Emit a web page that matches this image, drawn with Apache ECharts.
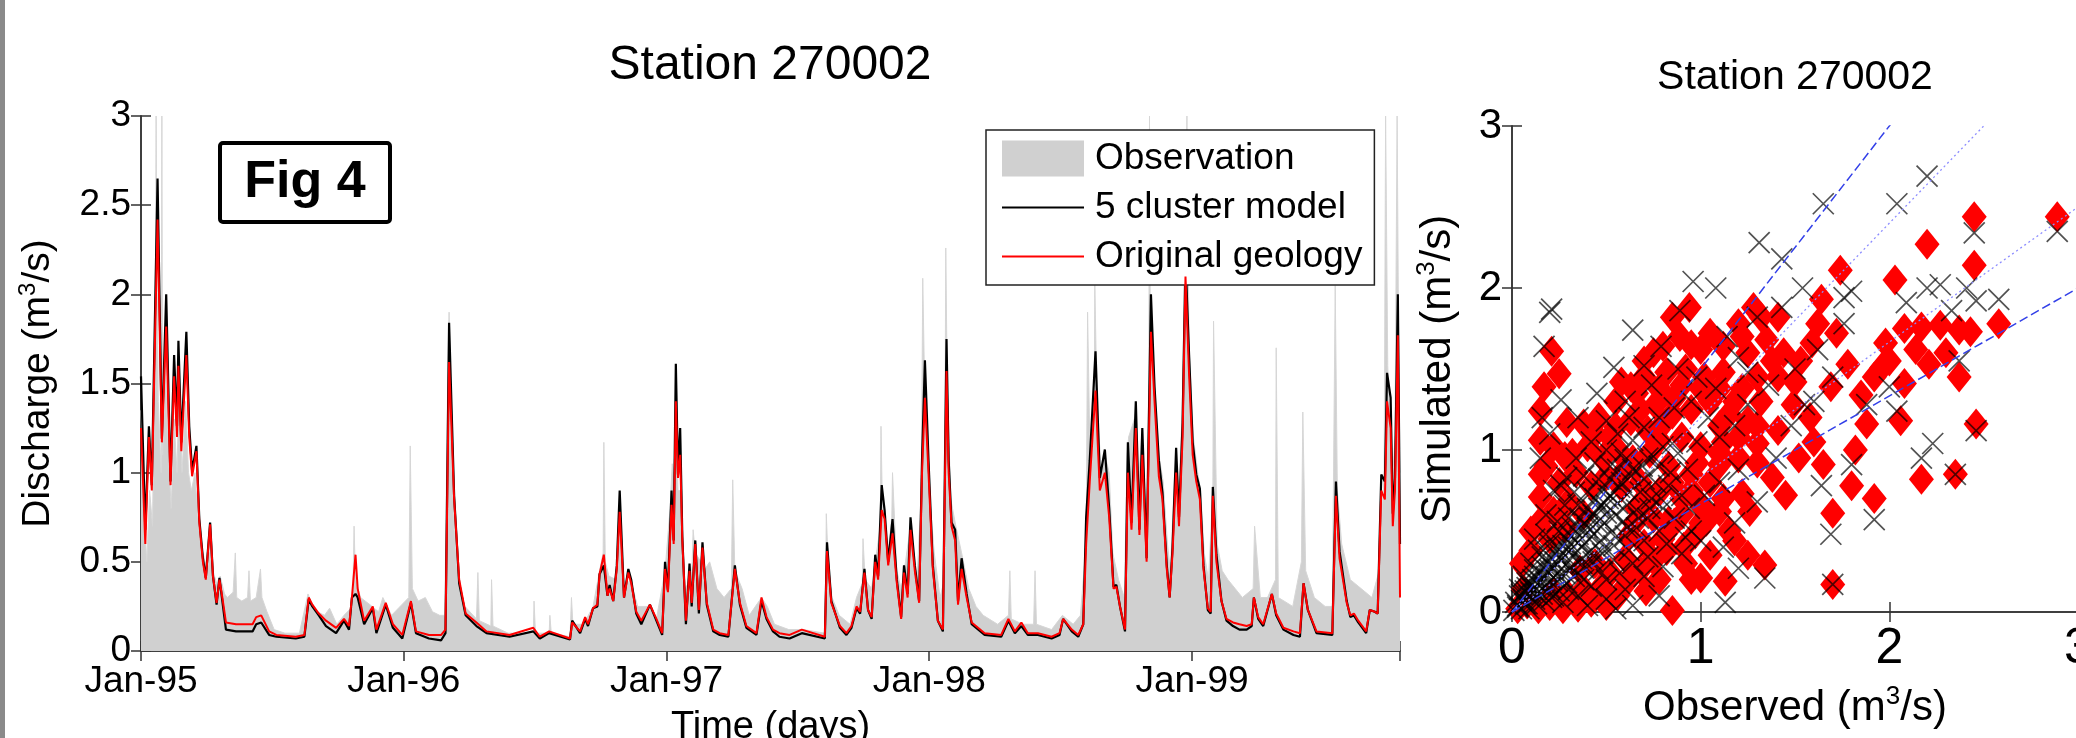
<!DOCTYPE html>
<html>
<head>
<meta charset="utf-8">
<script src="https://cdn.jsdelivr.net/npm/echarts@6/dist/echarts.min.js"></script>
<style>
  html, body { margin: 0; padding: 0; background: #fff; }
  #chart { width: 2076px; height: 738px; }
</style>
</head>
<body>
<div id="chart"></div>
<script>
// x positions are days since 1 Jan 1995
const yearLabels = ['Jan-95', 'Jan-96', 'Jan-97', 'Jan-98', 'Jan-99'];
const yearTickDays = [0, 365, 730, 1095, 1460];
const lastDay = 1749;

// observed discharge (grey area)
const obsFlow = [[0,1.35],[4,0.8],[8,0.5],[12,0.9],[16,0.7],[20,2.0],[21,3.0],[22,2.2],[24,1.4],[28,1.0],[29,3.0],[30,1.1],[34,1.6],[37,1.2],[42,0.8],[46,1.3],[50,1.0],[53,1.5],[57,1.0],[62,1.4],[66,1.0],[70,0.9],[75,1.0],[80,0.7],[86,0.55],[92,0.45],[97,0.6],[100,0.45],[105,0.38],[110,0.42],[116,0.32],[120,0.3],[128,0.33],[131,0.55],[133,0.3],[140,0.28],[148,0.3],[150,0.45],[152,0.28],[160,0.3],[166,0.46],[168,0.3],[175,0.22],[185,0.12],[200,0.1],[220,0.1],[232,0.32],[236,0.28],[245,0.22],[255,0.2],[262,0.24],[272,0.15],[282,0.2],[294,0.25],[296,0.7],[298,0.4],[305,0.3],[318,0.26],[330,0.22],[336,0.3],[348,0.2],[372,0.3],[374,1.15],[377,0.35],[385,0.28],[395,0.3],[405,0.22],[415,0.2],[422,0.2],[426,1.5],[428,1.9],[431,1.2],[435,0.7],[440,0.4],[450,0.25],
  [466,0.18],[468,0.44],[470,0.17],[486,0.14],[487,0.4],[489,0.14],[510,0.1],[545,0.1],[546,0.28],[548,0.1],[567,0.1],[568,0.2],[570,0.1],[596,0.08],[598,0.3],[600,0.15],[615,0.15],[628,0.25],[637,0.45],[642,0.55],[643,1.17],[645,0.5],[650,0.42],[660,0.4],[665,0.8],[670,0.35],[680,0.4],[690,0.25],[707,0.25],[716,0.18],[728,0.45],[735,0.8],[738,1.05],[741,0.95],[743,1.35],[746,0.9],[750,0.9],[755,0.35],[765,0.4],[767,0.68],[770,0.55],[778,0.5],[782,0.45],[790,0.5],[800,0.35],[810,0.3],[820,0.35],[822,0.96],[825,0.45],[835,0.35],[845,0.2],[862,0.3],[870,0.25],[880,0.15],[900,0.12],
  [920,0.12],[950,0.1],[951,0.25],[952,0.77],[955,0.45],[960,0.3],[970,0.2],[985,0.15],[994,0.3],[1002,0.38],[1003,0.63],[1006,0.4],[1015,0.35],[1020,0.5],[1027,0.7],[1028,1.26],[1030,0.8],[1038,0.55],[1043,0.75],[1044,1.0],[1050,0.45],[1056,0.35],[1062,0.5],[1069,0.7],[1078,0.4],[1084,0.9],[1086,2.09],[1089,1.4],[1095,0.9],[1102,0.55],[1110,0.3],[1116,0.4],[1118,2.26],[1120,1.5],[1125,0.85],[1132,0.7],[1140,0.55],[1150,0.35],[1160,0.25],[1170,0.2],[1190,0.15],[1205,0.2],[1207,0.45],[1209,0.18],[1225,0.15],[1240,0.15],[1242,0.45],[1244,0.15],[1265,0.12],[1280,0.2],[1295,0.15],[1305,0.2],[1313,0.6],[1315,1.9],[1319,0.95],[1324,1.2],[1325,2.07],[1328,1.4],[1334,1.0],[1339,1.1],
  [1345,1.0],[1350,0.55],[1358,0.4],[1366,0.3],[1370,1.1],[1372,1.2],[1380,1.3],[1385,0.9],[1390,1.2],[1396,0.6],[1400,1.5],[1401,3.0],[1402,1.9],[1408,1.5],[1414,1.1],[1420,0.95],[1426,0.6],[1430,0.45],[1436,1.0],[1441,0.8],[1446,1.3],[1450,2.0],[1453,3.0],[1456,1.7],[1462,1.2],[1468,1.0],[1472,0.9],[1477,0.55],[1483,0.4],[1489,0.9],[1490,1.85],[1495,0.6],[1502,0.45],[1510,0.4],[1520,0.35],[1530,0.3],[1545,0.35],[1547,0.7],[1555,0.3],[1565,0.3],[1576,0.4],[1577,1.7],[1580,0.3],[1600,0.25],[1612,0.5],[1614,1.34],[1618,0.45],[1630,0.3],[1645,0.25],[1655,0.25],[1659,2.05],[1662,0.9],[1668,0.6],[1680,0.4],[1695,0.35],[1710,0.3],[1720,0.45],[1727,1.0],[1729,3.0],[1732,1.6],[1738,0.9],[1742,1.2],[1745,3.0],[1747,1.8],[1749,1.0]];

// 5 cluster model (black)
const clusterFlow = [[0,1.54],[6,0.68],[11,1.26],[15,0.93],[23,2.65],[29,1.19],[35,2.0],[41,0.95],[46,1.66],[50,1.26],[52,1.74],[56,1.17],[63,1.79],[67,1.26],[71,1.01],[77,1.15],[81,0.74],[86,0.52],[90,0.41],[96,0.72],[100,0.42],[105,0.26],[109,0.41],[113,0.28],[118,0.12],[132,0.11],[155,0.11],[160,0.15],[167,0.16],[178,0.09],[188,0.08],[215,0.07],[227,0.08],[233,0.29],[238,0.25],[247,0.2],[257,0.14],[271,0.1],[282,0.17],[289,0.12],[293,0.3],[298,0.32],[301,0.3],[310,0.15],[322,0.24],[327,0.1],[340,0.26],[350,0.13],[363,0.07],[375,0.27],[382,0.1],[400,0.07],[417,0.06],[423,0.1],[428,1.84],[435,0.87],[442,0.38],[451,0.2],
  [466,0.14],[480,0.1],[512,0.08],[545,0.11],[554,0.07],[567,0.1],[596,0.065],[599,0.17],[610,0.1],[617,0.18],[621,0.14],[628,0.24],[634,0.25],[637,0.43],[643,0.48],[648,0.31],[651,0.37],[656,0.28],[661,0.48],[665,0.9],[671,0.3],[677,0.46],[681,0.4],[688,0.21],[695,0.15],[707,0.26],[716,0.17],[724,0.09],[728,0.5],[732,0.34],[737,0.9],[740,0.62],[743,1.61],[746,0.99],[749,1.25],[752,0.64],[757,0.15],[762,0.49],[765,0.25],[770,0.62],[775,0.21],[780,0.61],[786,0.26],[795,0.11],[804,0.09],[816,0.08],[825,0.48],[832,0.26],[841,0.13],[855,0.09],[862,0.28],[869,0.18],[878,0.11],[887,0.08],[901,0.07],
  [918,0.1],[950,0.07],[953,0.61],[959,0.28],[971,0.13],[980,0.09],[987,0.13],[994,0.24],[999,0.21],[1005,0.46],[1010,0.23],[1015,0.18],[1020,0.54],[1024,0.42],[1029,0.93],[1033,0.79],[1038,0.5],[1044,0.74],[1050,0.4],[1056,0.19],[1060,0.48],[1065,0.32],[1069,0.75],[1075,0.48],[1081,0.28],[1085,1.07],[1089,1.63],[1094,1.07],[1100,0.48],[1107,0.17],[1114,0.11],[1119,1.75],[1122,1.07],[1126,0.72],[1131,0.68],[1135,0.28],[1140,0.52],[1147,0.32],[1154,0.15],[1172,0.09],[1195,0.08],[1205,0.17],[1214,0.1],[1223,0.14],[1232,0.09],[1246,0.09],[1265,0.07],[1276,0.09],[1281,0.18],[1293,0.11],[1302,0.08],[1309,0.15],[1313,0.75],[1318,1.07],[1326,1.68],[1332,0.97],[1339,1.13],
  [1345,0.8],[1351,0.36],[1355,0.37],[1360,0.25],[1367,0.11],[1371,1.17],[1376,0.72],[1382,1.4],[1387,0.68],[1391,1.25],[1397,0.52],[1403,2.0],[1408,1.48],[1414,1.07],[1419,0.89],[1425,0.48],[1429,0.3],[1433,0.58],[1438,1.14],[1442,0.75],[1447,1.28],[1451,2.2],[1456,1.66],[1461,1.17],[1466,0.99],[1471,0.91],[1476,0.48],[1482,0.23],[1486,0.21],[1489,0.92],[1494,0.54],[1501,0.28],[1508,0.17],[1517,0.14],[1526,0.12],[1536,0.12],[1543,0.14],[1546,0.3],[1552,0.18],[1559,0.14],[1571,0.32],[1577,0.2],[1587,0.12],[1601,0.09],[1610,0.08],[1615,0.38],[1621,0.23],[1633,0.1],[1655,0.09],[1660,0.95],[1665,0.56],[1675,0.28],[1680,0.19],[1685,0.2],[1691,0.16],[1702,0.1],[1707,0.23],[1714,0.22],[1718,0.21],[1723,0.99],[1728,0.95],[1731,1.56],[1736,1.42],[1739,0.77],[1742,0.97],[1746,2.0],[1749,0.6]];

// original geology (red)
const originalFlow = [[0,1.25],[6,0.6],[11,1.2],[15,0.9],[23,2.42],[29,1.17],[35,1.82],[41,0.93],[46,1.54],[50,1.2],[52,1.6],[56,1.12],[63,1.66],[67,1.2],[71,0.98],[77,1.12],[81,0.72],[86,0.5],[90,0.4],[96,0.71],[100,0.42],[105,0.27],[109,0.4],[113,0.3],[118,0.16],[132,0.15],[155,0.15],[160,0.19],[167,0.2],[178,0.11],[188,0.09],[215,0.08],[227,0.09],[233,0.3],[238,0.26],[247,0.21],[257,0.17],[271,0.13],[282,0.18],[289,0.14],[293,0.3],[298,0.54],[301,0.35],[310,0.17],[322,0.25],[327,0.12],[340,0.27],[350,0.15],[363,0.09],[375,0.28],[382,0.11],[400,0.09],[417,0.09],[423,0.12],[428,1.62],[435,0.85],[442,0.4],[451,0.21],
  [466,0.16],[480,0.11],[512,0.09],[545,0.13],[554,0.08],[567,0.11],[596,0.07],[599,0.16],[610,0.11],[617,0.19],[621,0.15],[628,0.24],[634,0.26],[637,0.43],[643,0.54],[648,0.31],[651,0.35],[656,0.28],[661,0.46],[665,0.78],[671,0.3],[677,0.44],[681,0.38],[688,0.22],[695,0.17],[707,0.26],[716,0.18],[724,0.1],[728,0.46],[732,0.33],[737,0.82],[740,0.6],[743,1.4],[746,0.97],[749,1.1],[752,0.62],[757,0.17],[762,0.45],[765,0.27],[770,0.6],[775,0.23],[780,0.58],[786,0.27],[795,0.12],[804,0.1],[816,0.09],[825,0.46],[832,0.27],[841,0.14],[855,0.1],[862,0.3],[869,0.19],[878,0.12],[887,0.1],[901,0.09],
  [918,0.12],[950,0.08],[953,0.56],[959,0.27],[971,0.14],[980,0.1],[987,0.14],[994,0.25],[999,0.22],[1005,0.44],[1010,0.23],[1015,0.19],[1020,0.5],[1024,0.4],[1029,0.79],[1033,0.74],[1038,0.48],[1044,0.66],[1050,0.38],[1056,0.18],[1060,0.44],[1065,0.3],[1069,0.68],[1075,0.45],[1081,0.27],[1085,1.0],[1089,1.42],[1094,1.0],[1100,0.46],[1107,0.17],[1114,0.12],[1119,1.57],[1122,1.0],[1126,0.7],[1131,0.62],[1135,0.26],[1140,0.46],[1147,0.3],[1154,0.16],[1172,0.1],[1195,0.09],[1205,0.18],[1214,0.11],[1223,0.16],[1232,0.1],[1246,0.1],[1265,0.08],[1276,0.1],[1281,0.18],[1293,0.12],[1302,0.09],[1309,0.15],[1313,0.6],[1318,0.95],[1326,1.46],[1332,0.9],[1339,1.0],
  [1345,0.75],[1351,0.35],[1355,0.36],[1360,0.25],[1367,0.12],[1371,1.0],[1376,0.68],[1382,1.25],[1387,0.65],[1391,1.1],[1397,0.5],[1403,1.79],[1408,1.4],[1414,0.98],[1419,0.85],[1425,0.46],[1429,0.3],[1433,0.55],[1438,1.0],[1442,0.7],[1447,1.2],[1451,2.1],[1456,1.55],[1461,1.1],[1466,0.95],[1471,0.85],[1476,0.46],[1482,0.24],[1486,0.22],[1489,0.87],[1494,0.5],[1501,0.28],[1508,0.18],[1517,0.16],[1526,0.15],[1536,0.14],[1543,0.15],[1546,0.3],[1552,0.19],[1559,0.15],[1571,0.32],[1577,0.21],[1587,0.13],[1601,0.11],[1610,0.1],[1615,0.38],[1621,0.23],[1633,0.11],[1655,0.1],[1660,0.87],[1665,0.52],[1675,0.27],[1680,0.2],[1685,0.21],[1691,0.17],[1702,0.11],[1707,0.23],[1714,0.22],[1718,0.21],[1723,0.9],[1728,0.85],[1731,1.4],[1736,1.25],[1739,0.7],[1742,0.9],[1746,1.77],[1749,0.3]];

// scatter: [observed, simulated] for original geology (red diamonds)
const scatterOriginal = [[2.89,2.44],[2.45,2.44],[2.20,2.27],[2.45,2.14],[1.74,2.11],[2.03,2.05],[1.64,1.93],[0.94,1.88],[2.58,1.78],[2.08,1.75],[2.17,1.76],[2.27,1.77],[2.37,1.74],[2.43,1.73],[2.37,1.45],[2.21,1.53],[2.46,1.16],[2.17,0.82],[2.35,0.85],[1.92,0.70],[1.70,0.61],[1.80,0.78],[1.65,0.91],[1.70,0.17],[0.85,0.01],[1.13,0.19],[1.34,0.29],[1.0,0.21],[0.71,0.13],[0.21,1.61],[0.25,1.47],[0.17,1.39],[0.15,1.24],[0.29,1.17],[0.15,1.06],[0.15,0.85],[0.15,0.71],[0.15,0.56],[0.70,1.55],[0.63,1.39],[0.89,1.70],[1.32,1.82],[1.41,1.82],[1.98,1.66],[1.96,1.51],[2.08,1.41],[2.06,1.18],[1.78,1.53],[1.82,1.0],[1.88,1.16],[1.59,1.66],[1.69,1.39],[1.53,1.55],[1.41,1.45],[1.49,1.28],[1.41,1.12],[1.30,1.04],[1.38,0.83],[1.26,0.62],[1.18,0.44],[1.22,0.73],[1.10,0.91],[1.03,0.56],[0.91,0.40],[0.83,0.56],[0.75,0.32],
  [0.03,0.02],[0.08,0.05],[0.14,0.02],[0.2,0.04],[0.27,0.02],[0.35,0.03],[0.42,0.06],[0.5,0.04],[0.06,0.14],[0.22,0.12],[0.3,0.1],[0.38,0.14],[0.47,0.15],[0.56,0.1],[0.62,0.2],[0.05,0.3],[0.1,0.38],[0.36,0.26],[0.44,0.3],[0.52,0.24],[0.6,0.33],[0.68,0.26],[0.78,0.2],[0.1,0.5],[0.2,0.45],[0.28,0.52],[0.62,0.47],[0.7,0.42],[0.82,0.38],[0.92,0.3],[0.22,0.62],[0.3,0.68],[0.38,0.6],[0.66,0.64],[0.75,0.58],[0.86,0.55],[0.97,0.48],[0.25,0.8],[0.34,0.86],[0.42,0.78],[0.5,0.84],[0.58,0.77],[0.68,0.8],[0.78,0.74],[0.9,0.7],[1.0,0.66],[0.32,0.98],[0.4,1.02],[0.48,0.95],[0.56,1.0],[0.64,0.94],[0.73,0.98],[0.83,0.9],[0.95,0.85],[1.05,0.8],[0.38,1.16],[0.46,1.2],[0.55,1.14],[0.63,1.18],[0.72,1.12],[0.8,1.16],[0.9,1.08],[1.0,1.02],[1.12,1.05],[1.2,0.95],[0.55,1.3],[0.66,1.35],[0.76,1.28],[0.86,1.32],[0.95,1.25],[1.05,1.3],[1.15,1.22],[1.25,1.18],[0.82,1.48],[0.92,1.5],[1.02,1.45],[1.12,1.48],[1.22,1.38],[1.32,1.3],[0.8,1.64],[1.0,1.62],[1.12,1.64],[1.25,1.6],[1.35,1.68],[1.44,1.6],[0.85,1.82],[1.2,1.78],[1.28,1.88],[0.22,1.02],[0.28,0.96],[0.18,0.9],[1.58,1.2],[1.6,1.05],[1.52,0.95],[1.45,0.72],[1.15,0.5],[1.05,0.35],[0.95,0.2],[1.25,0.35],[1.85,1.34],[1.92,1.45],[2.0,1.55],[2.14,1.62],[2.3,1.6],[1.72,1.72],[1.62,1.78],
  [0.58,1.42],[0.7,1.45],[0.78,1.38],[0.9,1.4],[1.0,1.38],[1.1,1.38],[1.18,1.3],[0.68,1.25],[0.85,1.22],[1.1,1.15],[1.2,1.08],[1.3,1.15],[0.78,1.06],[0.98,0.92],[1.1,0.98],[1.3,0.92],[0.85,0.8],[0.95,0.75],[1.12,0.7],[0.72,0.7],[0.6,0.88],[0.52,1.08],[0.44,1.1],[0.95,1.65],[1.05,1.72],[1.22,1.7],[1.38,1.55],[1.5,1.42],[0.75,1.6],[1.3,1.45],[0.8,0.45],[0.9,0.6],[1.0,0.55],[1.1,0.62],[0.65,0.55]];

// scatter: [observed, simulated] for 5 cluster model (black crosses)
const scatterCluster = [[2.20,2.69],[1.65,2.52],[2.04,2.52],[1.31,2.28],[1.43,2.18],[2.45,2.34],[2.89,2.35],[0.96,2.04],[1.08,2.0],[0.20,1.85],[0.21,1.87],[0.64,1.74],[0.17,1.64],[1.54,2.0],[1.76,1.94],[1.80,1.98],[2.09,1.91],[2.20,2.0],[2.27,2.02],[2.41,2.0],[2.46,1.92],[2.58,1.93],[2.33,1.86],[2.37,1.55],[2.23,1.04],[2.17,0.95],[2.35,0.85],[2.46,1.12],[1.92,0.57],[1.69,0.48],[1.80,0.91],[1.64,0.78],[1.70,0.17],[1.13,0.06],[1.20,0.27],[1.34,0.21],[0.54,1.51],[0.26,1.31],[0.29,0.83],[1.76,1.78],[1.88,1.28],[2.0,1.39],[2.04,1.24],[1.55,1.28],[1.43,1.88],[0.89,1.86],[1.14,1.70],[1.20,1.57],[1.30,1.82],[0.79,1.64],
  [0.01,0.01],[0.03,0.04],[0.05,0.02],[0.06,0.08],[0.08,0.05],[0.1,0.12],[0.12,0.08],[0.14,0.17],[0.16,0.11],[0.18,0.22],[0.2,0.15],[0.22,0.27],[0.24,0.19],[0.26,0.32],[0.28,0.24],[0.3,0.37],[0.32,0.28],[0.35,0.43],[0.37,0.33],[0.4,0.49],[0.42,0.38],[0.45,0.55],[0.47,0.44],[0.5,0.61],[0.53,0.5],[0.56,0.67],[0.59,0.56],[0.62,0.74],[0.66,0.63],[0.7,0.82],[0.74,0.7],[0.78,0.9],[0.83,0.78],[0.88,0.98],[0.93,0.88],[0.98,1.05],
  [0.02,0.06],[0.04,0.1],[0.07,0.13],[0.09,0.02],[0.11,0.2],[0.13,0.05],[0.15,0.24],[0.17,0.07],[0.19,0.3],[0.21,0.09],[0.23,0.36],[0.25,0.13],[0.27,0.41],[0.29,0.18],[0.31,0.47],[0.33,0.22],[0.36,0.52],[0.38,0.27],[0.41,0.58],[0.43,0.31],[0.46,0.64],[0.48,0.36],[0.51,0.7],[0.54,0.41],[0.57,0.77],[0.6,0.47],[0.63,0.84],[0.66,0.52],[0.69,0.9],[0.72,0.58],[0.75,0.96],[0.8,0.64],[0.85,1.04],[0.9,0.72],[0.14,0.38],[0.18,0.48],[0.24,0.56],[0.28,0.66],[0.33,0.74],[0.38,0.84],[0.44,0.92],[0.5,1.0],[0.56,1.1],[0.62,1.2],[0.1,0.3],[0.06,0.22],[0.04,0.14],[0.35,0.1],[0.42,0.16],[0.5,0.2],[0.57,0.24],[0.64,0.3],[0.72,0.34],[0.82,0.42],[0.92,0.46],[0.27,0.06],[0.4,0.04],[0.55,0.02],
  [0.03,0.03],[0.05,0.07],[0.07,0.05],[0.09,0.1],[0.11,0.14],[0.13,0.11],[0.15,0.19],[0.17,0.15],[0.19,0.25],[0.21,0.2],[0.23,0.31],[0.25,0.25],[0.27,0.36],[0.29,0.3],[0.31,0.42],[0.33,0.36],[0.35,0.48],[0.37,0.4],[0.39,0.54],[0.41,0.45],[0.43,0.6],[0.45,0.5],[0.47,0.66],[0.49,0.55],[0.52,0.72],[0.55,0.6],[0.58,0.8],[0.61,0.66],[0.64,0.88],[0.68,0.74],[0.72,0.95],[0.76,0.8],[0.8,1.02],[0.84,0.86],[0.08,0.15],[0.12,0.22],[0.16,0.28],[0.2,0.34],[0.24,0.4],[0.28,0.46],[0.32,0.52],[0.36,0.58],[0.4,0.64],[0.44,0.7],[0.48,0.76],[0.52,0.82],[0.56,0.88],[0.6,0.94],[0.13,0.14],[0.19,0.18],[0.25,0.22],[0.31,0.26],[0.37,0.3],[0.43,0.35],[0.49,0.4],[0.55,0.46],[0.61,0.52],[0.67,0.58],[0.73,0.64],[0.79,0.7],[0.05,0.11],[0.1,0.16],[0.2,0.26],[0.3,0.4],[0.4,0.52],[0.5,0.66],
  [0.08,0.18],[0.12,0.26],[0.16,0.34],[0.2,0.42],[0.25,0.5],[0.3,0.58],[0.35,0.66],[0.4,0.74],[0.46,0.82],[0.52,0.9],[0.58,0.98],[0.64,1.06],[0.7,1.14],[0.78,1.2],[0.86,1.26],[0.95,1.3],[1.04,1.2],[1.1,1.08],[1.18,1.15],[1.25,1.28],[1.08,1.38],[0.98,1.45],[0.88,1.5],[0.74,1.4],[0.6,1.3],[0.5,1.18],[0.42,1.05],[0.34,0.95],[0.26,0.78],[0.18,0.6],[0.12,0.45],[0.22,0.1],[0.3,0.14],[0.38,0.2],[0.46,0.26],[0.54,0.32],[0.62,0.38],[0.7,0.44],[0.78,0.5],[0.86,0.58],[0.94,0.64],[1.02,0.72],[1.1,0.8],[1.2,0.88],[0.5,0.08],[0.6,0.14],[0.7,0.22],[0.8,0.28],[0.9,0.36],[1.0,0.44],[0.64,0.04],[0.78,0.1],[1.18,0.55],[1.3,0.68],[1.4,0.95],[1.48,1.15],[1.36,1.4],[1.5,1.5],[1.62,1.62],[1.25,1.48],[0.7,1.52],[0.45,1.35],[0.35,1.2],[0.2,1.1],[0.15,0.95],[0.22,0.75],[0.16,1.2],[1.6,1.3],[1.7,1.45],[1.12,0.4],[0.95,0.5]];

// ratio lines simulated = slope * observed
const refSlopes = [1.5, 1.2, 1 / 1.2, 1 / 1.5];
const refDashed = [true, false, false, true];

const FONT = 'Liberation Sans, Arial, Helvetica, sans-serif';
const AXIS_COLOR = '#333';
const LINE_ICON = 'path://M0 0H100V2.6H0Z';

function unitName(label, size) {
  return {
    name: '{n|' + label + ' (m}{s|3}{n|/s)}',
    nameTextStyle: {
      rich: {
        n: { fontSize: size, lineHeight: size + 6, fontFamily: FONT, color: '#000' },
        s: { fontSize: Math.round(size * 0.62), lineHeight: Math.round(size * 0.66), verticalAlign: 'top', fontFamily: FONT, color: '#000' }
      }
    }
  };
}

function frameAxis(grid, pos, min, max, interval) {
  return {
    gridIndex: grid, type: 'value', position: pos, min: min, max: max, interval: interval,
    axisLine: { show: true, lineStyle: { color: AXIS_COLOR, width: 1.5 } },
    axisTick: { show: true, inside: true, length: 10, lineStyle: { color: AXIS_COLOR, width: 1.5 } },
    axisLabel: { show: false },
    splitLine: { show: false }
  };
}

const chart = echarts.init(document.getElementById('chart'));

const series = [
  {
    name: 'Observation', type: 'line', xAxisIndex: 0, yAxisIndex: 0,
    data: obsFlow, symbol: 'none', showSymbol: false,
    lineStyle: { color: '#d6d6d6', width: 1 },
    itemStyle: { color: '#d0d0d0' },
    areaStyle: { color: '#d0d0d0', opacity: 1 },
    z: 2
  },
  {
    name: '5 cluster model', type: 'line', xAxisIndex: 0, yAxisIndex: 0,
    data: clusterFlow, symbol: 'none', showSymbol: false,
    lineStyle: { color: '#000', width: 2.2 },
    itemStyle: { color: '#000' },
    z: 3
  },
  {
    name: 'Original geology', type: 'line', xAxisIndex: 0, yAxisIndex: 0,
    data: originalFlow, symbol: 'none', showSymbol: false,
    lineStyle: { color: '#ff0000', width: 2 },
    itemStyle: { color: '#ff0000' },
    z: 4
  },
  {
    name: 'original-scatter', type: 'scatter', xAxisIndex: 2, yAxisIndex: 2,
    data: scatterOriginal, symbol: 'diamond', symbolSize: [25, 31],
    itemStyle: { color: '#ff0000', opacity: 1 },
    z: 2
  },
  {
    name: 'cluster-scatter', type: 'scatter', xAxisIndex: 2, yAxisIndex: 2,
    data: scatterCluster, symbol: 'path://M0 0L10 10M10 0L0 10', symbolSize: 21,
    itemStyle: { color: 'none', borderColor: 'rgba(0,0,0,0.85)', borderWidth: 1.7 },
    z: 3
  }
];

refSlopes.forEach(function (s, i) {
  series.push({
    name: 'ratio-' + i, type: 'line', xAxisIndex: 2, yAxisIndex: 2,
    data: [[0, 0], [3, 3 * s]], symbol: 'none', showSymbol: false, silent: true,
    lineStyle: refDashed[i]
      ? { color: '#3340e8', width: 1.5, type: [9, 4] }
      : { color: '#8c8cff', width: 1.3, type: [2, 3] },
    z: 5
  });
});

chart.setOption({
  animation: false,
  backgroundColor: '#fff',
  textStyle: { fontFamily: FONT, color: '#000' },
  grid: [
    { left: 141, top: 116, width: 1259, height: 535, outerBoundsMode: 'none', containLabel: false },
    { left: 1512, top: 126, width: 566, height: 486, outerBoundsMode: 'none', containLabel: false }
  ],
  legend: {
    data: [
      { name: 'Observation', icon: 'rect' },
      { name: '5 cluster model', icon: LINE_ICON },
      { name: 'Original geology', icon: LINE_ICON }
    ],
    orient: 'vertical', left: 986, top: 130,
    itemWidth: 82, itemHeight: 36, itemGap: 12,
    padding: [10, 12, 10, 16],
    backgroundColor: '#fff', borderColor: '#222', borderWidth: 1.5,
    textStyle: { fontSize: 37, fontFamily: FONT, color: '#000', padding: [0, 0, 0, 6] },
    selectedMode: false
  },
  xAxis: [
    {
      gridIndex: 0, type: 'value', position: 'bottom', min: 0, max: lastDay, interval: 365,
      axisLine: { show: true, lineStyle: { color: AXIS_COLOR, width: 1.5 } },
      axisTick: { show: true, inside: true, length: 10, lineStyle: { color: AXIS_COLOR, width: 1.5 } },
      axisLabel: {
        fontSize: 37, color: '#000', margin: 12, fontFamily: FONT,
        formatter: function (v) {
          const k = yearTickDays.indexOf(v);
          return k >= 0 ? yearLabels[k] : '';
        }
      },
      splitLine: { show: false },
      name: 'Time (days)', nameLocation: 'middle', nameGap: 58,
      nameTextStyle: { fontSize: 38, fontFamily: FONT, color: '#000' }
    },
    frameAxis(0, 'top', 0, lastDay, 365),
    Object.assign({
      gridIndex: 1, type: 'value', position: 'bottom', min: 0, max: 3, interval: 1,
      axisLine: { show: true, lineStyle: { color: AXIS_COLOR, width: 1.5 } },
      axisTick: { show: true, inside: true, length: 10, lineStyle: { color: AXIS_COLOR, width: 1.5 } },
      axisLabel: { fontSize: 50, color: '#000', margin: 12, fontFamily: FONT },
      splitLine: { show: false },
      nameLocation: 'middle', nameGap: 72
    }, unitName('Observed', 42)),
    frameAxis(1, 'top', 0, 3, 1)
  ],
  yAxis: [
    Object.assign({
      gridIndex: 0, type: 'value', position: 'left', min: 0, max: 3, interval: 0.5,
      axisLine: { show: true, lineStyle: { color: AXIS_COLOR, width: 1.5 } },
      axisTick: { show: true, inside: true, length: 10, lineStyle: { color: AXIS_COLOR, width: 1.5 } },
      axisLabel: { fontSize: 37, color: '#000', margin: 10, fontFamily: FONT },
      splitLine: { show: false },
      nameLocation: 'middle', nameGap: 80
    }, unitName('Discharge', 39)),
    frameAxis(0, 'right', 0, 3, 0.5),
    Object.assign({
      gridIndex: 1, type: 'value', position: 'left', min: 0, max: 3, interval: 1,
      axisLine: { show: true, lineStyle: { color: AXIS_COLOR, width: 1.5 } },
      axisTick: { show: true, inside: true, length: 10, lineStyle: { color: AXIS_COLOR, width: 1.5 } },
      axisLabel: { fontSize: 42, color: '#000', margin: 10, fontFamily: FONT },
      splitLine: { show: false },
      nameLocation: 'middle', nameGap: 50
    }, unitName('Simulated', 42)),
    frameAxis(1, 'right', 0, 3, 1)
  ],
  graphic: [
    { type: 'rect', shape: { x: 0, y: 0, width: 5, height: 738 }, style: { fill: '#8a8a8a' }, z: 100 },
    { type: 'text', x: 770, y: 66, style: { text: 'Station 270002', fontSize: 48, fontFamily: FONT, fill: '#000', align: 'center', verticalAlign: 'middle' }, z: 100 },
    { type: 'text', x: 1795, y: 78, style: { text: 'Station 270002', fontSize: 41, fontFamily: FONT, fill: '#000', align: 'center', verticalAlign: 'middle' }, z: 100 },
    { type: 'rect', shape: { x: 220, y: 143, width: 170, height: 79, r: 3 }, style: { fill: '#fff', stroke: '#000', lineWidth: 4 }, z: 100 },
    { type: 'text', x: 305, y: 183, style: { text: 'Fig 4', fontSize: 52, fontWeight: 'bold', fontFamily: FONT, fill: '#000', align: 'center', verticalAlign: 'middle' }, z: 101 }
  ],
  series: series
});
</script>
</body>
</html>
